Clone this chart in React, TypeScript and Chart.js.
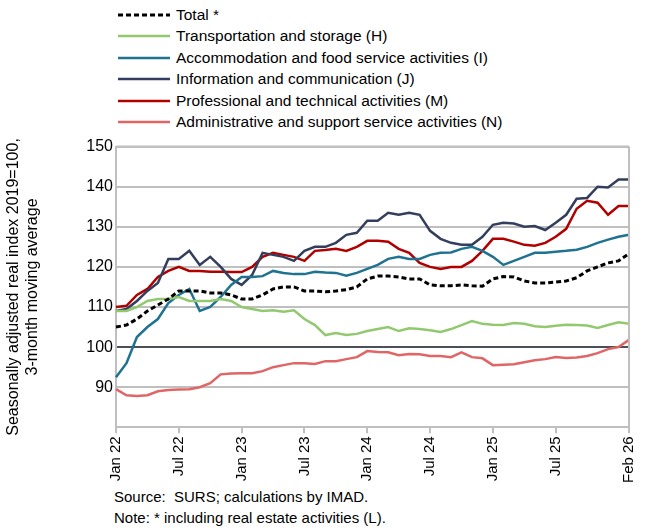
import React, { useEffect, useRef } from "react";
import { Chart, registerables } from "chart.js";
Chart.register(...registerables);

const months = ["Jan","Feb","Mar","Apr","May","Jun","Jul","Aug","Sep","Oct","Nov","Dec"];
const categories: string[] = [];
for (let i = 0; i < 50; i++) categories.push(months[i % 12] + " " + (22 + Math.floor(i / 12)));
const tickIdx = [0, 6, 12, 18, 24, 30, 36, 42, 49];

const total = [105,105.5,107,109,110.5,112,114,114,114,113.5,113.5,113,112,112,113,114.5,115,115,114,114,113.8,114,114.3,115,117,117.7,117.7,117.5,117,117,115.5,115.3,115.3,115.5,115.3,115.2,117,117.6,117.5,116.5,116,116,116.2,116.5,117.3,119,120,121,121.5,123.3];
const transport = [109,109,110,111.5,112,112,112.5,111.5,111.5,111.5,112,111.5,110,109.5,109,109.2,108.8,109.2,107,105.5,103,103.5,103,103.3,104,104.5,105,104,104.7,104.5,104.2,103.8,104.5,105.5,106.5,105.8,105.6,105.5,106,105.8,105.2,105,105.3,105.6,105.5,105.4,104.8,105.5,106.2,105.8];
const accommodation = [92.5,96,102.5,105,107,111,113,114.5,109,110,112.5,115.5,117.5,117.5,117.7,119,118.5,118.2,118.2,118.8,118.6,118.5,117.8,118.5,119.5,120.5,122,122.5,122,122,123,123.5,123.6,124.5,125,124,122.5,120.5,121.5,122.5,123.5,123.5,123.8,124,124.3,125,126,126.8,127.5,128];
const information = [109,109.5,111.5,114,116,122,122,124,120.5,122.5,120,117,115.5,118,123.5,123,122.5,121.5,124,125,125,126,128,128.5,131.5,131.5,133.5,133,133.5,133,129,127,126,125.5,125.5,127.5,130.5,131,130.8,130,130.2,129.2,131,133,137,137.2,140,139.8,141.8,141.8];
const professional = [110,110.3,113,114.5,117.5,119,120,119,119,118.8,118.8,118.7,118.7,120,122.5,123.5,123,122.5,121.5,124,124.2,124.5,124,125,126.5,126.5,126.3,124.5,123.5,121,120,119.5,120,120,121.5,124,127,127,126.3,125.5,125.3,126,127.5,129.5,134.5,136.5,136,133,135.2,135.2];
const administrative = [89.5,88,87.8,88,89,89.3,89.4,89.5,90,91,93.2,93.4,93.5,93.5,94,95,95.5,96,96,95.8,96.5,96.5,97,97.5,99,98.8,98.7,98,98.3,98.2,97.8,97.8,97.5,98.7,97.5,97.2,95.5,95.6,95.7,96.2,96.7,97,97.5,97.3,97.4,97.8,98.5,99.5,100,101.8];

const series = [
  { label: "Total *", data: total, color: "#000000", dash: [5, 3], width: 3 },
  { label: "Transportation and storage (H)", data: transport, color: "#92c96f", dash: [], width: 2.5 },
  { label: "Accommodation and food service activities (I)", data: accommodation, color: "#1f7391", dash: [], width: 2.5 },
  { label: "Information and communication (J)", data: information, color: "#323e5c", dash: [], width: 2.5 },
  { label: "Professional and technical activities (M)", data: professional, color: "#b00000", dash: [], width: 2.5 },
  { label: "Administrative and support service activities (N)", data: administrative, color: "#e06666", dash: [], width: 2.5 },
];

const FONT = "'Liberation Sans', Arial, sans-serif";

export default function App() {
  const ref = useRef<HTMLCanvasElement>(null);
  useEffect(() => {
    const chart = new Chart(ref.current!, {
      type: "line",
      data: {
        labels: categories,
        datasets: series.map((s) => ({
          label: s.label, data: s.data, borderColor: s.color, borderDash: s.dash,
          borderWidth: s.width, pointRadius: 0, fill: false, tension: 0,
        })),
      },
      options: {
        animation: false, responsive: false,
        layout: { padding: { top: 12, right: 4 } },
        plugins: { legend: { display: false }, tooltip: { enabled: false } },
        scales: {
          x: {
            offset: false,
            grid: {
              drawOnChartArea: false, tickLength: 6,
              color: (c: any) => (tickIdx.includes(c.index) ? "#bfbfbf" : "rgba(0,0,0,0)"),
              lineWidth: 2,
            },
            border: { color: "#bfbfbf", width: 2 },
            ticks: {
              autoSkip: false, maxRotation: 90, minRotation: 90, color: "#000",
              font: { family: FONT, size: 15 },
              callback: (v: any, i: number) => (tickIdx.includes(i) ? categories[i] : ""),
            },
          },
          y: {
            min: 80, max: 150,
            afterFit: (s: any) => { s.width = 116; },
            ticks: {
              stepSize: 10, color: "#000", font: { family: FONT, size: 16 },
              callback: (v: any) => (v === 80 ? "" : v),
            },
            grid: {
              color: (c: any) => (c.tick && c.tick.value === 100 ? "#4a4f5a" : c.tick && c.tick.value === 80 ? "rgba(0,0,0,0)" : "#bfbfbf"),
              lineWidth: 2, drawTicks: false,
            },
            border: { color: "#bfbfbf", width: 2 },
            title: {
              display: true, color: "#000", font: { family: FONT, size: 16 },
              text: ["Seasonally adjusted real index 2019=100,", "3-month moving average"],
            },
          },
        },
      },
      plugins: [{
        id: "rightBorder",
        afterDraw(c: any) {
          const { ctx, chartArea: a } = c;
          ctx.save();
          ctx.strokeStyle = "#bfbfbf"; ctx.lineWidth = 2;
          ctx.beginPath(); ctx.moveTo(a.right, a.top); ctx.lineTo(a.right, a.bottom); ctx.stroke();
          ctx.beginPath(); ctx.moveTo(a.left, a.top); ctx.lineTo(a.right, a.top); ctx.stroke();
          ctx.restore();
        },
      }],
    } as any);
    return () => chart.destroy();
  }, []);

  return (
    <div style={{ position: "absolute", left: 0, top: 0, width: 650, height: 532, fontFamily: FONT, background: "#fff" }}>
      <div style={{ position: "absolute", left: 118, top: 4 }}>
        {series.map((s) => (
          <div key={s.label} style={{ display: "flex", alignItems: "center", height: 21.5, fontSize: 15.5 }}>
            <svg width="52" height="10" style={{ marginRight: 6 }}>
              <line x1="0" y1="5" x2="52" y2="5" stroke={s.color} strokeWidth={s.width}
                strokeDasharray={s.dash.length ? "5 3" : undefined} />
            </svg>
            <span>{s.label}</span>
          </div>
        ))}
      </div>
      <canvas ref={ref} width={650} height={352} style={{ position: "absolute", left: 0, top: 134 }} />
      <div style={{ position: "absolute", left: 114, top: 486, fontSize: 15, lineHeight: "21px" }}>
        <div>Source:&nbsp; SURS; calculations by IMAD.</div>
        <div>Note: * including real estate activities (L).</div>
      </div>
    </div>
  );
}
